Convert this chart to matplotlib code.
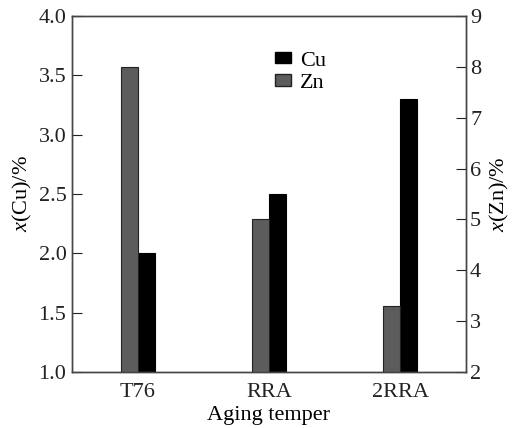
import numpy as np
import matplotlib
matplotlib.use("Agg")
import matplotlib.pyplot as plt
from matplotlib.patches import Patch

plt.rcParams['font.family'] = ['Liberation Serif', 'DejaVu Serif']
plt.rcParams['mathtext.fontset'] = 'custom'
plt.rcParams['mathtext.rm'] = 'Liberation Serif'
plt.rcParams['mathtext.it'] = 'Liberation Serif:italic'

tempers = ["T76", "RRA", "2RRA"]
cu = [2.0, 2.5, 3.3]   # left axis
zn = [8.0, 5.0, 3.3]   # right axis

x = np.arange(len(tempers))
w = 0.13
zn_col = "#5c5c5c"
fs = 16

fig = plt.figure(figsize=(5.12, 4.28), dpi=100)
ax = fig.add_subplot(111)
fig.subplots_adjust(left=0.1406, right=0.910, top=0.9626, bottom=0.1308)
ax2 = ax.twinx()

ax.bar(x + w/2, cu, width=w, color="black", edgecolor="black", linewidth=0.8)
ax2.bar(x - w/2, zn, width=w, color=zn_col, edgecolor="#222222", linewidth=0.8)

ax.set_xlim(-0.5, 2.5)
ax.set_ylim(1.0, 4.0)
ax2.set_ylim(2, 9)
ax.set_yticks(np.arange(1.0, 4.01, 0.5))
ax2.set_yticks(np.arange(2, 10, 1))
ax.set_xticks(x)
ax.set_xticklabels(tempers)

ax.tick_params(axis='y', direction='in', length=7, width=0.8, labelsize=fs, pad=4, colors="#222222")
ax2.tick_params(axis='y', direction='in', length=7, width=0.8, labelsize=fs, pad=3, colors="#222222")
ax.tick_params(axis='x', length=0, labelsize=fs, pad=8, colors="#222222")

for a in (ax, ax2):
    for s in a.spines.values():
        s.set_color("#444444")
        s.set_linewidth(1.0)

ax.set_ylabel(r"$x$(Cu)/%", fontsize=fs, labelpad=3)
ax2.set_ylabel(r"$x$(Zn)/%", fontsize=fs, rotation=90, labelpad=5)
ax.set_xlabel("Aging temper", fontsize=fs, labelpad=3)

handles = [Patch(facecolor="black", edgecolor="black", label="Cu"),
           Patch(facecolor=zn_col, edgecolor="#222222", label="Zn")]
ax2.legend(handles=handles, loc="upper left", bbox_to_anchor=(0.492, 0.925),
           frameon=False, fontsize=fs, handlelength=0.75, handleheight=0.4,
           handletextpad=0.4, labelspacing=0.15, borderaxespad=0)

fig.savefig("out.png", dpi=100)
